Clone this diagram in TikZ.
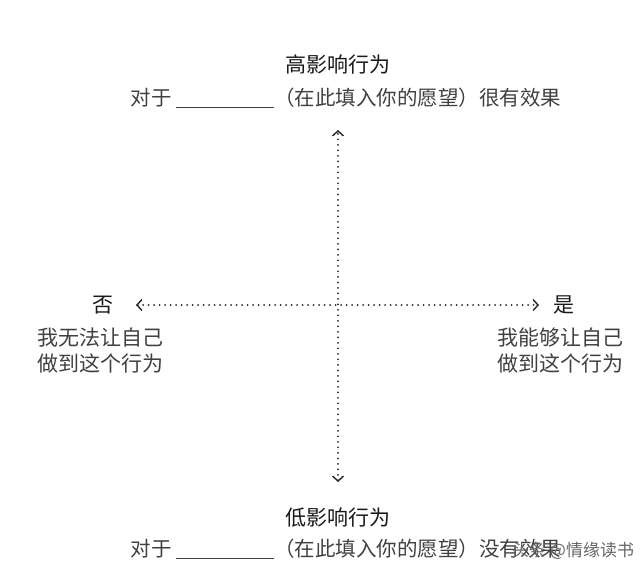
\documentclass[tikz,border=0pt]{standalone}
\usepackage{fontspec}
\setmainfont{Noto Sans CJK SC}
\usepackage{tikz}
\usetikzlibrary{positioning, arrows.meta}
\tikzset{axis/.style={line width=2pt, line cap=round, dash pattern=on 0pt off 5.5pt, black!85, {Straight Barb[length=5pt,width=11pt,line width=1.4pt]}-{Straight Barb[length=5pt,width=11pt,line width=1.4pt]}},
  title/.style={font=\fontsize{21}{24}\selectfont, text=black!90, inner sep=0pt},
  desc/.style={font=\fontsize{20.5}{26}\selectfont, text=black!75, inner sep=0pt, align=left}}
\begin{document}
\begin{tikzpicture}[x=1pt, y=1pt]
  \useasboundingbox (0,0) rectangle (640,-575);
  % Axes
  \coordinate (top) at (338,-130);
  \coordinate (bottom) at (338,-482);
  \coordinate (left) at (136,-305);
  \coordinate (right) at (539,-305);
  \draw[axis] (bottom) -- (top);
  \draw[axis] (left) -- (right);

  % Labels
  \node[title] (high) at (338,-65) {高影响行为};
  \node[desc] (highdesc) at (346,-98) {对于 \underline{\hspace{4.8em}}（在此填入你的愿望）很有效果};
  \node[title] (low) at (338,-518) {低影响行为};
  \node[desc] (lowdesc) at (346,-549) {对于 \underline{\hspace{4.8em}}（在此填入你的愿望）没有效果};
  \node[title] (no) at (103,-305) {否};
  \node[title] (yes) at (564,-305) {是};
  \node[desc, font=\fontsize{21}{26}\selectfont, anchor=north west] (nodesc) at (37,-328) {我无法让自己\\做到这个行为};
  \node[desc, font=\fontsize{21}{26}\selectfont, anchor=north west] (yesdesc) at (497,-328) {我能够让自己\\做到这个行为};
  \node[font=\fontsize{17}{20}\selectfont, text=black!60, anchor=west, inner sep=0pt] (mark) at (512,-551) {头条 @情缘读书};
\end{tikzpicture}
\end{document}
